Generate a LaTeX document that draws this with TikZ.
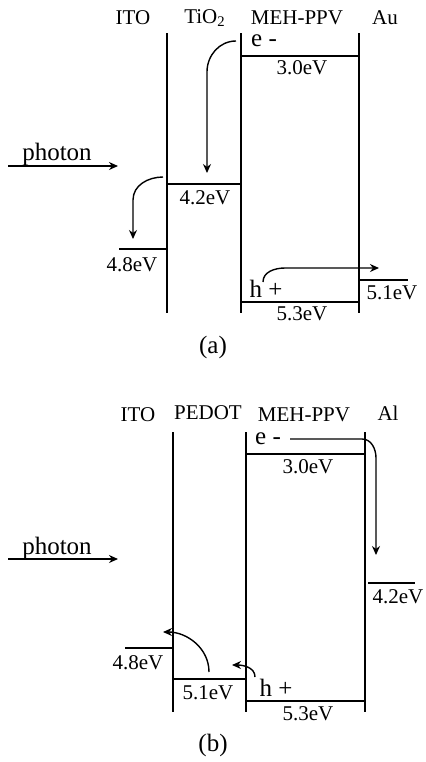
\documentclass[tikz,border=0pt]{standalone}
\usepackage{fontspec}
\setmainfont{Liberation Serif}
\usetikzlibrary{arrows.meta}
\tikzset{
  band/.style={line width=0.7pt},
  lvl/.style={line width=0.9pt},
  hop/.style={-{Stealth[length=4.5pt,width=4pt]},line width=0.7pt},
  lbl/.style={font=\fontsize{10.5}{12}\selectfont,inner sep=1pt},
  big/.style={font=\fontsize{12.5}{14}\selectfont,inner sep=1pt},
}

\begin{document}
\begin{tikzpicture}[x=0.5pt,y=-0.5pt]
  \useasboundingbox (0,0) rectangle (426,762);
  % (a) ITO / TiO2 / MEH-PPV / Au
  \node[lbl] (itoA) at (133,18) {ITO};
  \node[lbl] (tioA) at (205,18) {TiO\textsubscript{2}};
  \node[lbl] (mehA) at (297,18) {MEH-PPV};
  \node[lbl] (auA) at (385,18) {Au};
  \draw[band] (167,33) -- (167,313)  (241,33) -- (241,313)  (359,33) -- (359,313);
  \draw[lvl] (241,56) -- (359,56)  (167,184) -- (241,184)  (119,249) -- (167,249)
             (241,302) -- (359,302)  (359,280) -- (408,280);
  \node[lbl] (lumoA) at (302,68) {3.0eV};
  \node[lbl] (tiA) at (205,198) {4.2eV};
  \node[lbl] (itoLvlA) at (132,265) {4.8eV};
  \node[lbl] (homoA) at (302,314) {5.3eV};
  \node[lbl] (auLvlA) at (392,293) {5.1eV};
  \node[big] (eA) at (264,41) {e -};
  \node[big] (hA) at (266,289) {h +};
  \node[big] (phA) at (57,154) {photon};
  \coordinate (phA0) at (8,166);  \coordinate (phA1) at (118,166);
  \draw[hop] (phA0) -- (phA1);
  \draw[hop] (236,41) to[out=180,in=90] (207,72) -- (207,173);
  \draw[hop] (163,177) to[out=180,in=90] (133,200) -- (133,239);
  \draw[hop] (263,282) to[out=90,in=180] (285,268) -- (379,268);
  \node[big] (capA) at (213,347) {(a)};
  % (b) ITO / PEDOT / MEH-PPV / Al
  \node[lbl] (itoB) at (138,415) {ITO};
  \node[lbl] (pedB) at (208,413) {PEDOT};
  \node[lbl] (mehB) at (304,415) {MEH-PPV};
  \node[lbl] (alB) at (388,413) {Al};
  \draw[band] (173,432) -- (173,712)  (246,432) -- (246,712)  (365,432) -- (365,712);
  \draw[lvl] (246,454) -- (365,454)  (368,583) -- (415,583)  (125,648) -- (173,648)
             (173,679) -- (246,679)  (246,701) -- (365,701);
  \node[lbl] (lumoB) at (308,467) {3.0eV};
  \node[lbl] (alLvlB) at (398,597) {4.2eV};
  \node[lbl] (itoLvlB) at (138,663) {4.8eV};
  \node[lbl] (pedLvlB) at (208,693) {5.1eV};
  \node[lbl] (homoB) at (308,714) {5.3eV};
  \node[big] (eB) at (268,439) {e -};
  \node[big] (hB) at (276,688) {h +};
  \node[big] (phB) at (57,548) {photon};
  \coordinate (phB0) at (8,559);  \coordinate (phB1) at (118,559);
  \draw[hop] (phB0) -- (phB1);
  \draw[hop] (290,439) -- (362,439) to[out=0,in=90] (376,458) -- (376,555);
  \draw[hop] (255,677) to[out=90,in=0] (232,665);
  \draw[hop] (209,672) to[out=90,in=0] (163,632);
  \node[big] (capB) at (213,745) {(b)};
\end{tikzpicture}
\end{document}
